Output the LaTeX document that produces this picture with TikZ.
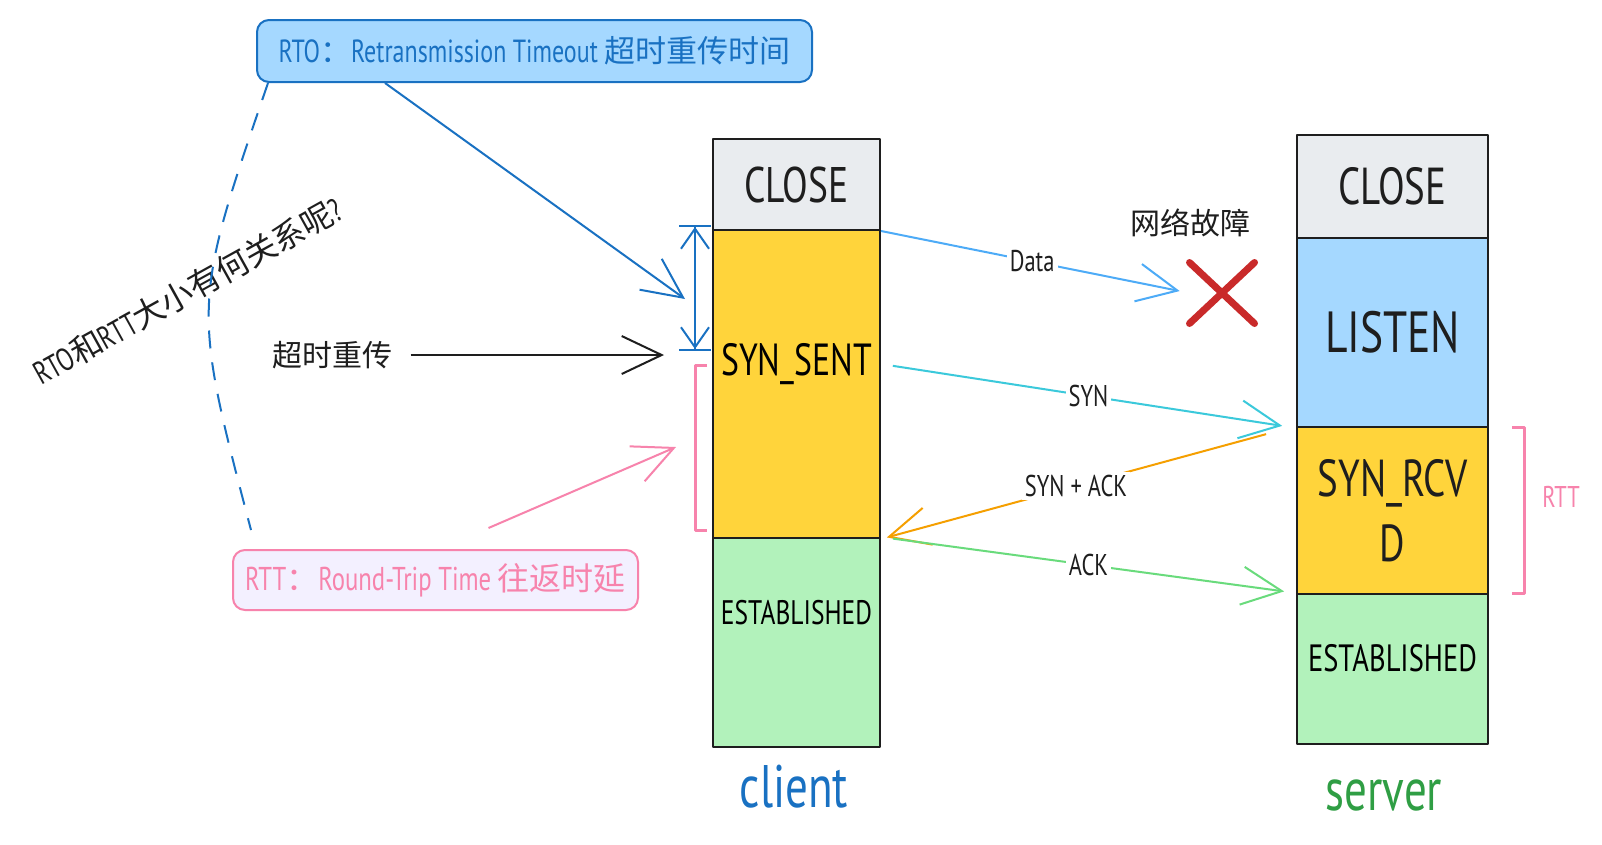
\documentclass[tikz,border=0pt]{standalone}
\usepackage{fontspec}
\setmainfont{PT Sans}[FakeStretch=0.75]
\newfontfamily\cjk{Noto Sans CJK SC}
\usetikzlibrary{arrows.meta,shapes.misc}

\definecolor{inkgray}{HTML}{1E1E1E}
\definecolor{closegray}{HTML}{E9ECEF}
\definecolor{sentyellow}{HTML}{FFD43B}
\definecolor{estgreen}{HTML}{B2F2BB}
\definecolor{listenblue}{HTML}{A5D8FF}
\definecolor{rtoblue}{HTML}{1971C2}
\definecolor{rttpink}{HTML}{F783AC}
\definecolor{rttfill}{HTML}{F3F0FF}
\definecolor{datablue}{HTML}{4DABF7}
\definecolor{syncyan}{HTML}{3BC9DB}
\definecolor{ackorange}{HTML}{F59F00}
\definecolor{ackgreen}{HTML}{69DB7C}
\definecolor{failred}{HTML}{C92A2A}
\definecolor{servergreen}{HTML}{2F9E44}

\newcommand\fsz[1]{\fontsize{#1}{#1}\selectfont}

\begin{document}
\begin{tikzpicture}[x=1pt,y=-1pt,line join=round,
  stbox/.style={draw=inkgray,line width=2pt,anchor=north west,inner sep=0pt,text=inkgray},
  flow/.style={line width=2pt,-{Straight Barb[length=40pt,width=38pt]}},
  msglabel/.style={fill=white,inner sep=3pt,text=inkgray,font=\fsz{30}},
  note/.style={draw,line width=2pt,rounded corners=12pt,inner sep=0pt}]
  \useasboundingbox[fill=white] (0,0) rectangle (1602,844);

  \node[stbox,fill=closegray,minimum width=167,minimum height=91,font=\fsz{50}] (cclose) at (712,138) {CLOSE};
  \node[stbox,fill=sentyellow,minimum width=167,minimum height=308,label={[yshift=20pt,font=\fsz{45}]center:SYN\_SENT}] (csent) at (712,229) {};
  \node[stbox,fill=estgreen,minimum width=167,minimum height=209,label={[yshift=30pt,font=\fsz{34}]center:ESTABLISHED}] (cest) at (712,537) {};
  \node[text=rtoblue,font=\fsz{60}] (client) at (794,787) {client};

  \node[stbox,fill=closegray,minimum width=191,minimum height=103,font=\fsz{52}] (sclose) at (1296,134) {CLOSE};
  \node[stbox,fill=listenblue,minimum width=191,minimum height=189,font=\fsz{58}] (slisten) at (1296,237) {LISTEN};
  \node[stbox,fill=sentyellow,minimum width=191,minimum height=167,align=center,font=\fontsize{52}{65}\selectfont] (srcvd) at (1296,426) {SYN\_RCV\\D};
  \node[stbox,fill=estgreen,minimum width=191,minimum height=150,label={[yshift=11pt,font=\fsz{38}]center:ESTABLISHED}] (sest) at (1296,593) {};
  \node[text=servergreen,font=\fsz{60}] (server) at (1384,795) {server};

  \node[note,draw=rtoblue,fill=listenblue,text=rtoblue,minimum width=555,minimum height=62,font=\fsz{32}] (rto) at (534.5,51) {RTO{\cjk\fsz{31}：}Retransmission Timeout {\cjk\fsz{31}超时重传时间}};
  \node[note,draw=rttpink,fill=rttfill,text=rttpink,minimum width=405,minimum height=60,font=\fsz{33}] (rtt) at (435.5,580) {RTT{\cjk\fsz{32}：}Round-Trip Time {\cjk\fsz{32}往返时延}};
  \node[text=inkgray,font=\cjk\fsz{30}] (retx) at (332,355) {超时重传};
  \node[text=inkgray,font=\cjk\fsz{30}] (netfail) at (1190,223) {网络故障};
  \node[text=inkgray,rotate=29,font=\fsz{32}] (question) at (188,291) {RTO{\cjk 和}RTT{\cjk 大小有何关系呢}?};
  \node[cross out,draw=failred,line width=7pt,line cap=round,minimum width=58,minimum height=54] (fail) at (1222,293) {};
  \node[text=rttpink,font=\fsz{30}] (rttnote) at (1561,497) {RTT};

  \coordinate (rtohit) at (685,299);
  \coordinate (retxhit) at (664,355);
  \coordinate (rtthit) at (676,447);

  \draw[flow,datablue,shorten >=10pt] (cclose.south east) -- (fail.west) node[msglabel,pos=.49] {Data};
  \draw[flow,syncyan,shorten <=12pt,shorten >=14pt] ([yshift=20pt]csent.east) -- (slisten.south west) node[msglabel,pos=.5] {SYN};
  \draw[flow,ackorange,shorten <=31pt,shorten >=6pt] (srcvd.north west) -- (csent.south east) node[msglabel,pos=.53] {SYN + ACK};
  \draw[flow,ackgreen,shorten <=12pt,shorten >=12pt] (cest.north east) -- (sest.north west) node[msglabel,pos=.5] {ACK};
  \draw[flow,rtoblue] ([xshift=129pt]rto.south west) -- (rtohit);
  \draw[flow,inkgray,shorten <=15pt] (retx.east) -- (retxhit);
  \draw[flow,rttpink] ([xshift=53pt,yshift=21pt]rtt.north) -- (rtthit);
  \draw[rtoblue,line width=2pt,dash pattern=on 18pt off 14pt] ([xshift=12pt]rto.south west) .. controls (192,305) .. ([xshift=19pt,yshift=19pt]rtt.north west);
  \draw[rtoblue,line width=2pt,{Bar[width=32pt]Straight Barb[length=20pt,width=28pt]}-{Straight Barb[length=20pt,width=28pt]Bar[width=32pt]}] ([xshift=-17pt,yshift=6pt]cclose.south west) -- ++(0,126);
  \draw[rttpink,line width=3pt] (707,365) -| (695,530) -- (707,530);
  \draw[rttpink,line width=3pt] (1512,427) -| (1524,593) -- (1512,593);
\end{tikzpicture}
\end{document}
